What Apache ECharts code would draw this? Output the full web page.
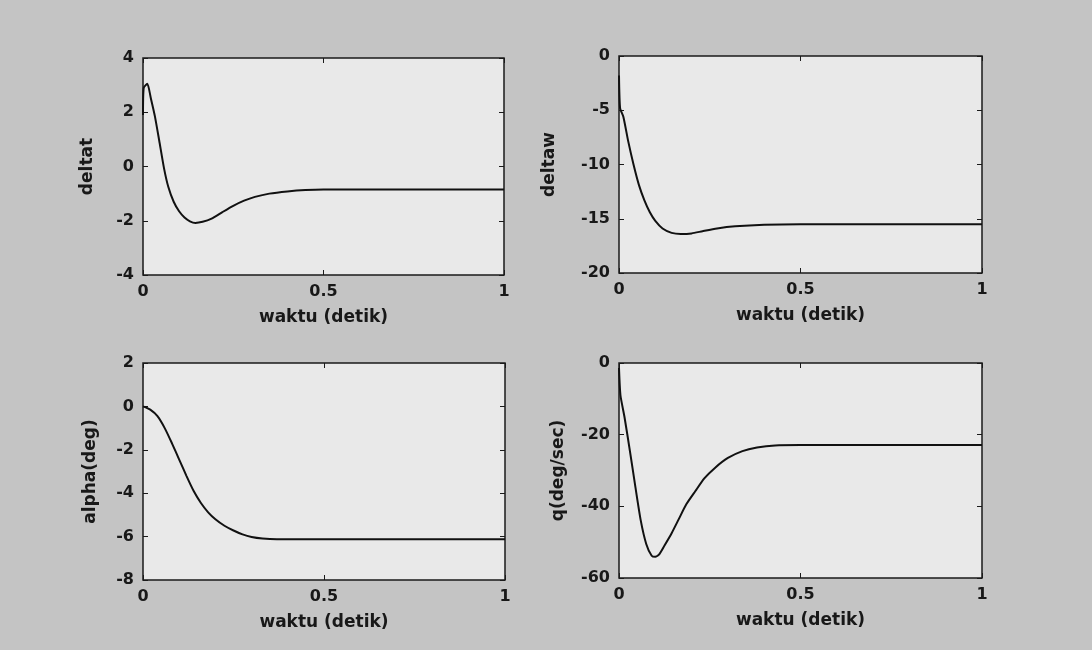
<!DOCTYPE html>
<html>
<head>
<meta charset="utf-8">
<script src="https://cdn.jsdelivr.net/npm/echarts@6/dist/echarts.min.js"></script>
<style>
    html, body { margin: 0; padding: 0; background: #c4c4c4; }
    #main { width: 1092px; height: 650px; }
</style>
</head>
<body>
<div id="main"></div>
<script>
// deltat
var tDeltat = [0, 0.002, 0.012, 0.022, 0.033, 0.045, 0.058, 0.07, 0.085, 0.1, 0.115, 0.13, 0.145, 0.165, 0.19, 0.22, 0.25, 0.28, 0.31, 0.35, 0.4, 0.45, 0.5, 1.0];
var yDeltat = [1.9, 2.9, 3.05, 2.5, 1.85, 0.95, -0.05, -0.75, -1.3, -1.65, -1.88, -2.02, -2.08, -2.04, -1.92, -1.68, -1.45, -1.26, -1.12, -1.0, -0.92, -0.87, -0.85, -0.85];
// deltaw
var tDeltaw = [0, 0.003, 0.012, 0.025, 0.04, 0.055, 0.07, 0.085, 0.1, 0.12, 0.145, 0.17, 0.2, 0.23, 0.27, 0.32, 0.4, 0.5, 1.0];
var yDeltaw = [-1.8, -4.8, -5.6, -7.8, -10.0, -11.9, -13.3, -14.4, -15.2, -15.9, -16.3, -16.4, -16.35, -16.15, -15.9, -15.7, -15.55, -15.5, -15.5];
// alpha(deg)
var tAlpha = [0, 0.02, 0.04, 0.06, 0.08, 0.1, 0.12, 0.14, 0.16, 0.18, 0.2, 0.225, 0.25, 0.275, 0.3, 0.33, 0.37, 0.45, 1.0];
var yAlpha = [0, -0.15, -0.45, -1.0, -1.7, -2.45, -3.2, -3.9, -4.45, -4.88, -5.2, -5.5, -5.72, -5.9, -6.02, -6.09, -6.12, -6.12, -6.12];
// q(deg/sec)
var tQ = [0, 0.004, 0.015, 0.03, 0.045, 0.06, 0.075, 0.09, 0.1, 0.11, 0.125, 0.145, 0.165, 0.185, 0.21, 0.235, 0.265, 0.3, 0.34, 0.38, 0.43, 0.5, 1.0];
var yQ = [-1.4, -9, -15, -24.5, -34.5, -44, -50.5, -53.8, -54.1, -53.5, -51, -47.5, -43.5, -39.5, -35.8, -32.2, -29.2, -26.5, -24.6, -23.6, -23.0, -22.9, -22.9];

var xTicks = [0, 0.5, 1];
var xName = 'waktu (detik)';

var panels = [
    {name: 'deltat', t: tDeltat, y: yDeltat, min: -4, max: 4, step: 2, box: {left: 143, top: 58, width: 361, height: 217}, gap: 47},
    {name: 'deltaw', t: tDeltaw, y: yDeltaw, min: -20, max: 0, step: 5, box: {left: 619, top: 56, width: 363, height: 217}, gap: 61},
    {name: 'alpha(deg)', t: tAlpha, y: yAlpha, min: -8, max: 2, step: 2, box: {left: 143, top: 363, width: 362, height: 217}, gap: 44},
    {name: 'q(deg/sec)', t: tQ, y: yQ, min: -60, max: 0, step: 20, box: {left: 619, top: 363, width: 363, height: 215}, gap: 52}
];

var fontFamily = 'DejaVu Sans, Liberation Sans, Arial, sans-serif';
var tickFont = {color: '#181818', fontSize: 16, fontWeight: 'bold', fontFamily: fontFamily};
var nameFont = {color: '#181818', fontSize: 17, fontWeight: 'bold', fontFamily: fontFamily};
var tickStyle = {inside: true, length: 5, lineStyle: {color: '#1a1a1a', width: 1}};

var grid = [], xAxis = [], yAxis = [], series = [];
panels.forEach(function (p, i) {
    grid.push({
        left: p.box.left, top: p.box.top, width: p.box.width, height: p.box.height,
        show: true, backgroundColor: '#e9e9e9', borderColor: '#1a1a1a', borderWidth: 1.5
    });
    xAxis.push({
        type: 'value', gridIndex: i, min: 0, max: 1, interval: 0.5,
        name: xName, nameLocation: 'middle', nameGap: 34,
        nameTextStyle: nameFont,
        axisLine: {show: false, onZero: false},
        axisTick: tickStyle,
        axisLabel: Object.assign({margin: 9, formatter: function (v) {
            return xTicks.indexOf(v) >= 0 ? String(v) : '';
        }}, tickFont),
        splitLine: {show: false}
    });
    xAxis.push({
        type: 'value', gridIndex: i, min: 0, max: 1, interval: 0.5, position: 'top',
        axisLine: {show: false, onZero: false},
        axisTick: tickStyle,
        axisLabel: {show: false}, splitLine: {show: false}
    });
    yAxis.push({
        type: 'value', gridIndex: i, min: p.min, max: p.max, interval: p.step,
        name: p.name, nameLocation: 'middle', nameGap: p.gap,
        nameTextStyle: nameFont,
        axisLine: {show: false, onZero: false},
        axisTick: tickStyle,
        axisLabel: Object.assign({margin: 9}, tickFont),
        splitLine: {show: false}
    });
    yAxis.push({
        type: 'value', gridIndex: i, min: p.min, max: p.max, interval: p.step, position: 'right',
        axisLine: {show: false, onZero: false},
        axisTick: tickStyle,
        axisLabel: {show: false}, splitLine: {show: false}
    });
    series.push({
        type: 'line', xAxisIndex: i * 2, yAxisIndex: i * 2,
        data: p.t.map(function (t, k) { return [t, p.y[k]]; }),
        showSymbol: false, smooth: 0.2,
        lineStyle: {color: '#111', width: 2}
    });
});

var myChart = echarts.init(document.getElementById('main'));
myChart.setOption({
    backgroundColor: '#c4c4c4',
    animation: false,
    grid: grid,
    xAxis: xAxis,
    yAxis: yAxis,
    series: series
});
</script>
</body>
</html>
